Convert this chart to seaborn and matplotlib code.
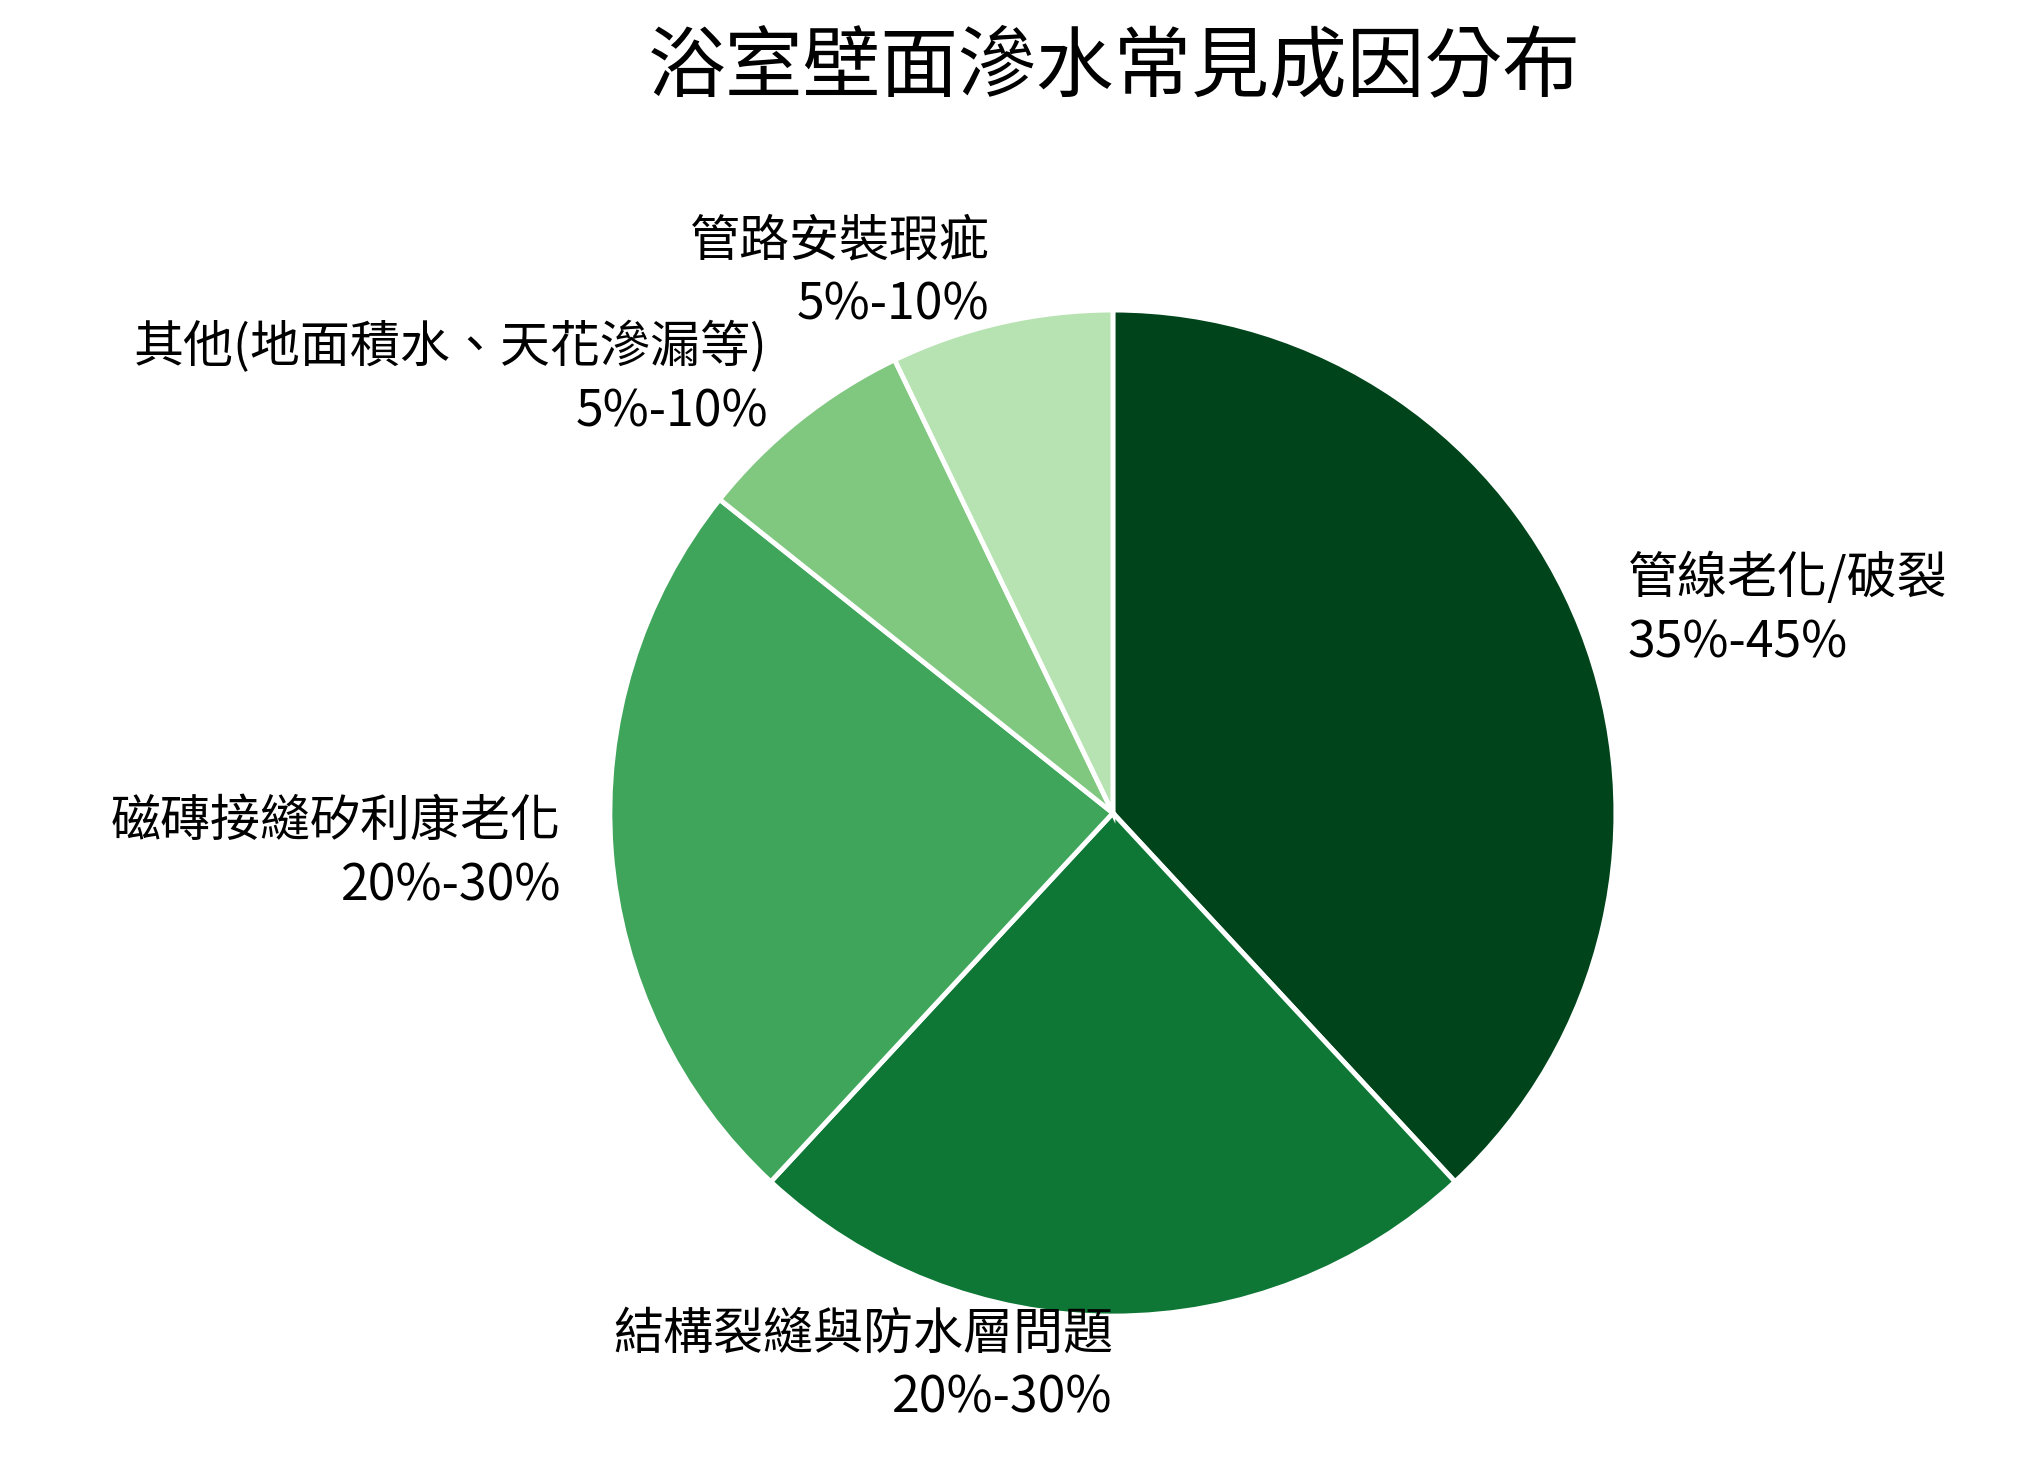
import matplotlib
matplotlib.use("Agg")
import matplotlib.pyplot as plt
import seaborn as sns

# data (midpoints of the stated ranges)
labels = ["管線老化/破裂\n35%-45%", "結構裂縫與防水層問題\n20%-30%", "磁磚接縫矽利康老化\n20%-30%",
          "其他(地面積水、天花滲漏等)\n5%-10%", "管路安裝瑕疵\n5%-10%"]
values = [40, 25, 25, 7.5, 7.5]
colors = ["#00441b", "#0e7735", "#3fa55b", "#80c780", "#b7e2b1"]

sns.set_theme(style="white")
plt.rcParams['font.family'] = ['Noto Sans CJK TC', 'DejaVu Sans']

fig = plt.figure(figsize=(20.29, 14.68), dpi=100)
ax = fig.add_axes([0.3006, 0.1035, 0.4958, 0.6853])
wedges, texts = ax.pie(values, labels=labels, colors=colors, startangle=90, counterclock=False,
                       labeldistance=1.1, wedgeprops=dict(edgecolor="white", linewidth=3.5),
                       textprops=dict(fontsize=36, color="black", linespacing=1.3))
for t in texts:
    t.set_clip_on(False)
ax.set_xlim(-1, 1)
ax.set_ylim(-1, 1)
fig.suptitle("浴室壁面滲水常見成因分布", fontsize=56, x=0.549, y=0.98, color="black")
fig.savefig("out.png", dpi=100)
